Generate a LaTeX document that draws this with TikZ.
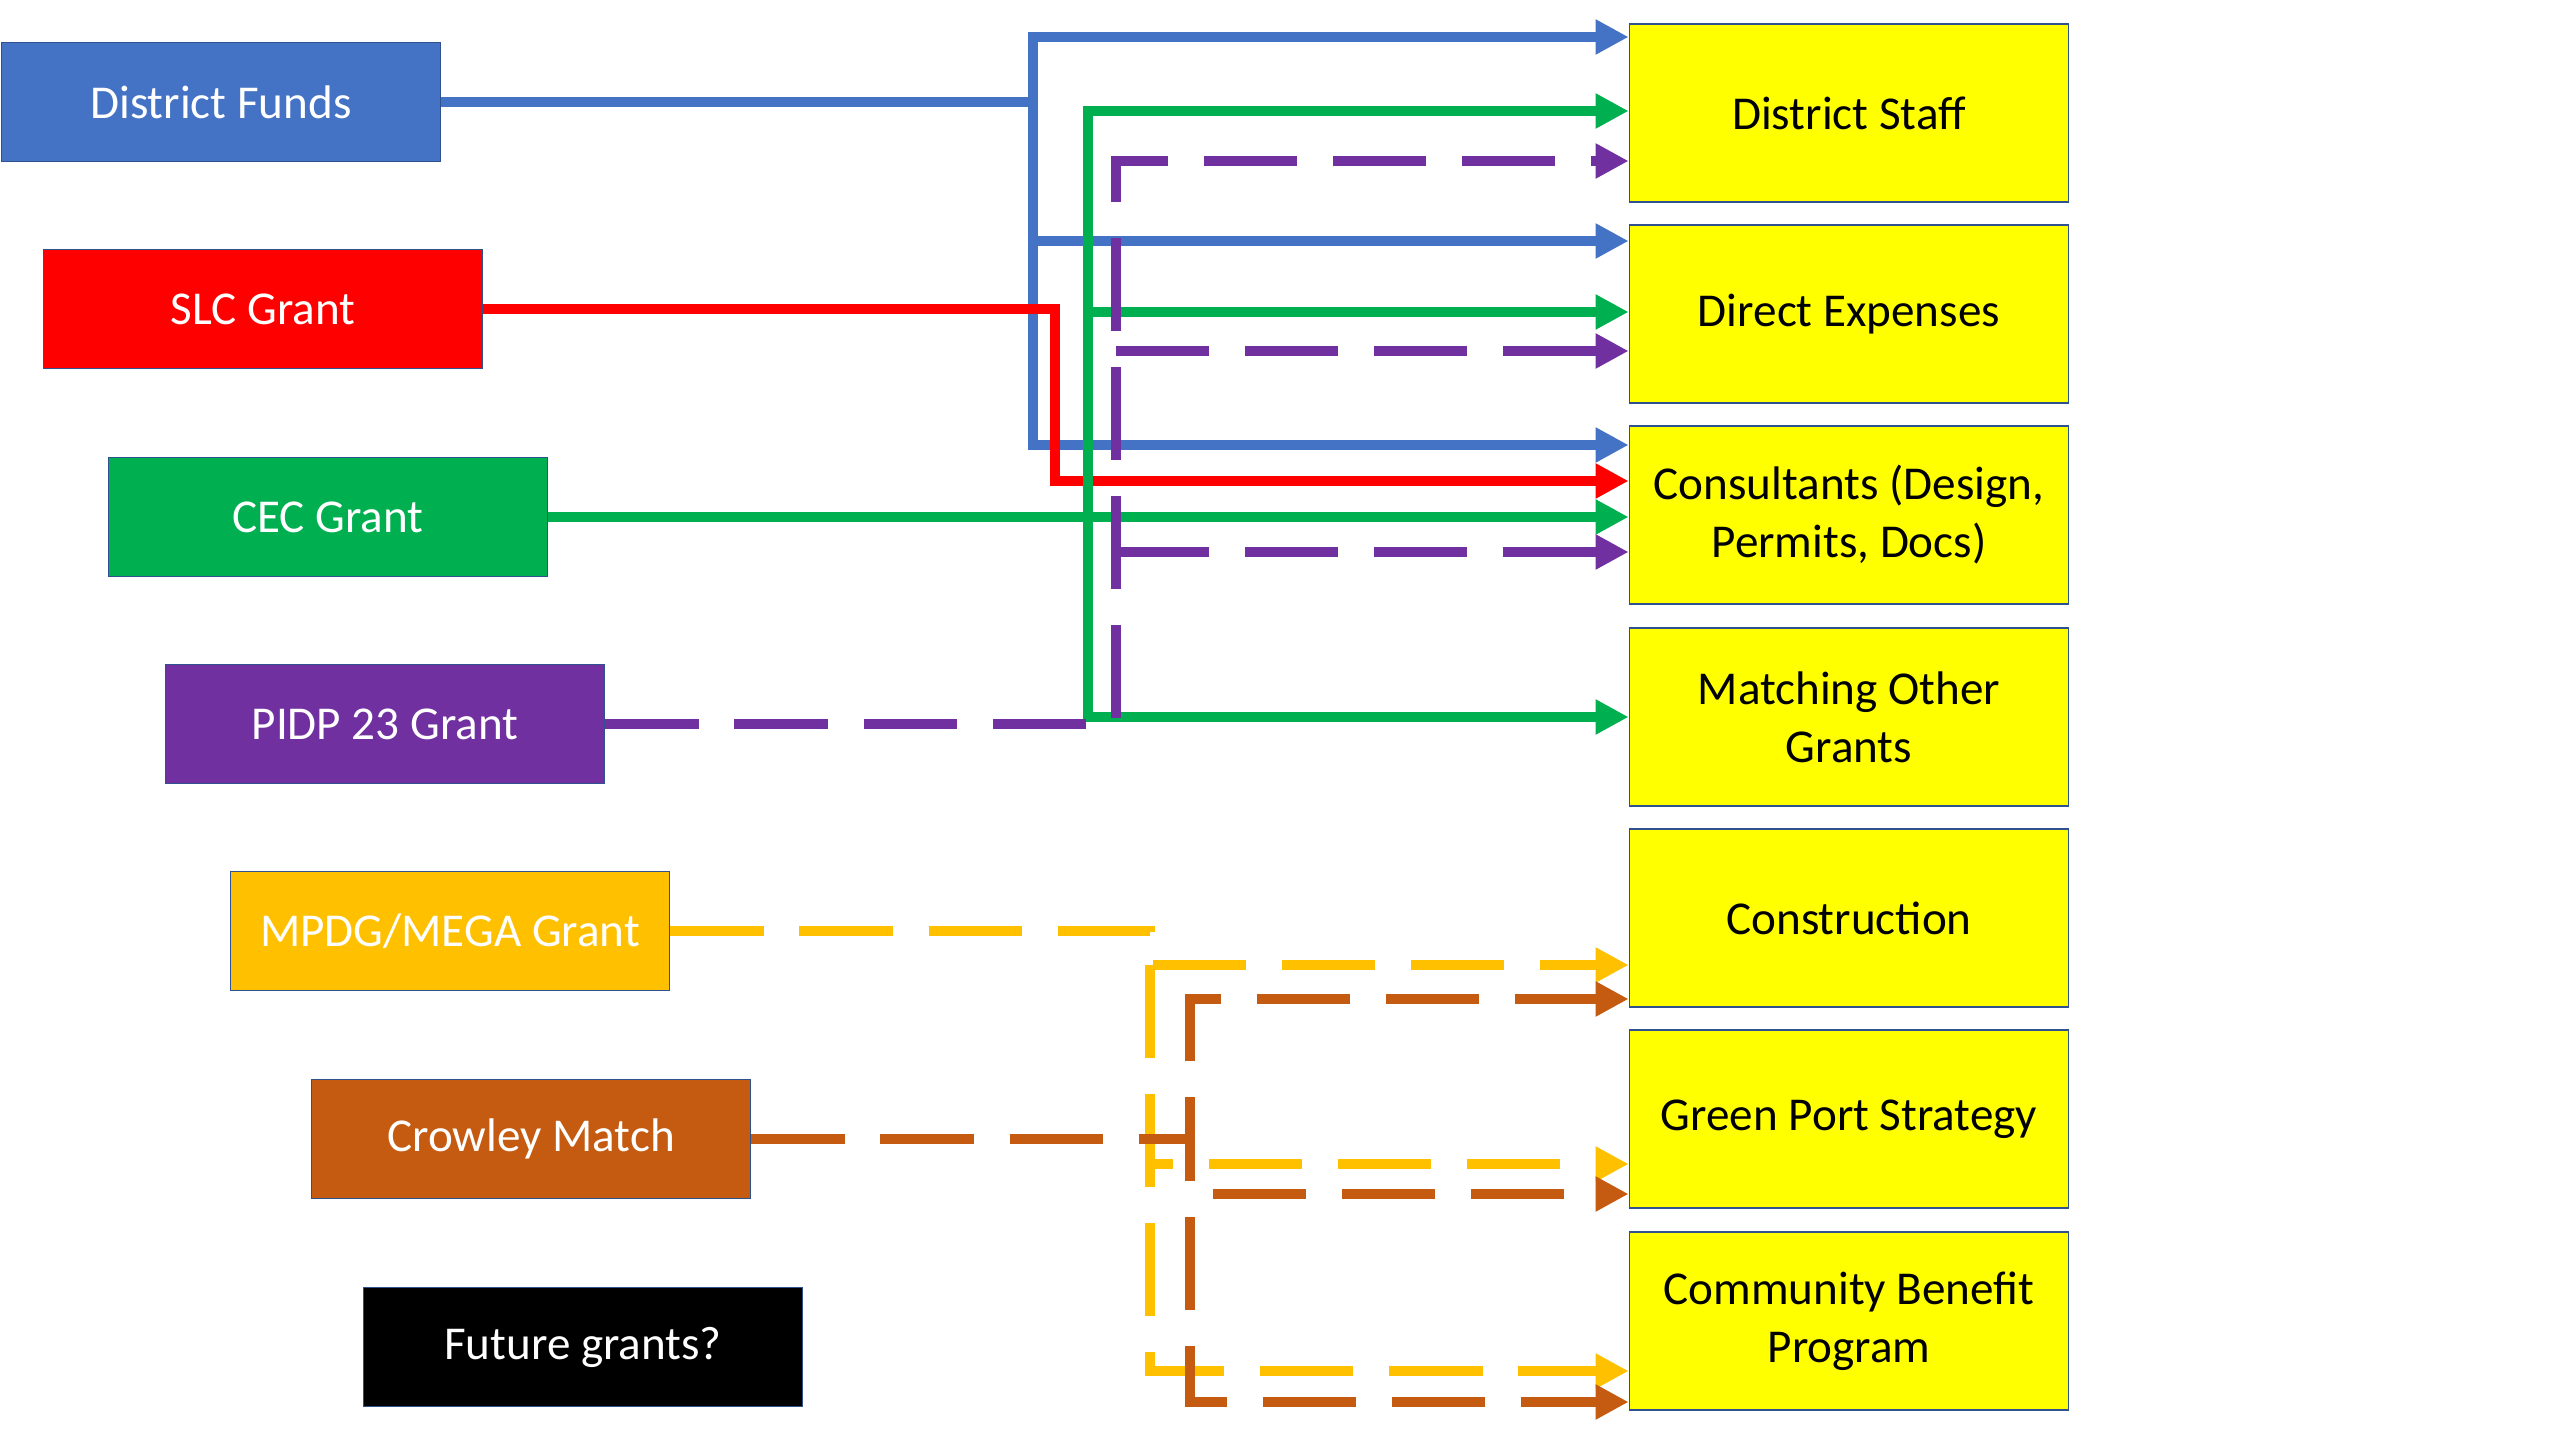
\documentclass[tikz,border=0pt]{standalone}
\usepackage{fontspec}
\setmainfont{Carlito}
\usetikzlibrary{arrows.meta}
\definecolor{fundblue}{HTML}{4472C4}
\definecolor{slcred}{HTML}{FF0000}
\definecolor{cecgreen}{HTML}{00B050}
\definecolor{pidppurple}{HTML}{7030A0}
\definecolor{megagold}{HTML}{FFC000}
\definecolor{crowbrown}{HTML}{C55A11}
\definecolor{boxline}{HTML}{2F528F}
\definecolor{boxyellow}{HTML}{FFFF00}
\tikzset{
  src/.style={draw=boxline, line width=0.45pt, minimum width=4.39cm, minimum height=1.19cm, inner sep=0pt, text=white, font=\fontsize{13.4}{16}\selectfont},
  dst/.style={draw=boxline, line width=0.45pt, fill=boxyellow, minimum width=4.39cm, minimum height=1.78cm, inner sep=0pt, align=center, font=\fontsize{13.4}{16.5}\selectfont},
  flow/.style={line width=2.85pt, -{Triangle[width=9.4pt,length=9.4pt]}},
  dashflow/.style={flow, dash pattern=on 26.5pt off 10.2pt},
}

\begin{document}
\begin{tikzpicture}[x=0.01cm,y=-0.01cm]
\useasboundingbox (0,0) rectangle (2560,1440);
\node[src,fill=fundblue] (df) at (221,102) {District Funds};
\node[src,fill=slcred] (slc) at (263,309) {SLC Grant};
\node[src,fill=cecgreen] (cec) at (328,517) {CEC Grant};
\node[src,fill=pidppurple] (pidp) at (385,724) {PIDP 23 Grant};
\node[src,fill=megagold] (mpdg) at (450,931) {MPDG/MEGA Grant};
\node[src,fill=crowbrown] (crowley) at (531,1139) {Crowley Match};
\node[src,fill=black] (future) at (583,1347) {Future grants?};
\node[dst] (staff) at (1849,113) {District Staff};
\node[dst] (direct) at (1849,314) {Direct Expenses};
\node[dst] (consult) at (1849,515) {Consultants (Design,\\Permits, Docs)};
\node[dst] (match) at (1849,717) {Matching Other\\Grants};
\node[dst] (constr) at (1849,918) {Construction};
\node[dst] (gps) at (1849,1119) {Green Port Strategy};
\node[dst] (cbp) at (1849,1321) {Community Benefit\\Program};
\coordinate (b1) at (1033,37);
\coordinate (g1) at (1088,111);
\coordinate (r1) at (1055,481);
\coordinate (p1) at (1116,161);
\coordinate (y1) at (1150,965);
\coordinate (c1) at (1190,999);
\coordinate (c2) at (1190,1194);
\coordinate (c3) at (1190,1402);
\draw[flow,fundblue] (df.east) -| (b1) -- (staff.west |- b1);
\draw[flow,fundblue] (b1) |- (direct.west |- 0,241);
\draw[flow,fundblue] (b1) |- (consult.west |- 0,445);
\draw[flow,slcred] (slc.east) -| (r1) -- (consult.west |- r1);
\draw[flow,cecgreen] (cec.east) -- (consult.west |- cec.east);
\draw[flow,cecgreen] (cec.east) -| (g1) -- (staff.west |- g1);
\draw[flow,cecgreen] (g1) |- (direct.west |- 0,312);
\draw[flow,cecgreen] (g1) |- (match.west |- 0,717);
\draw[dashflow,pidppurple] (pidp.east) -| (p1) -- (staff.west |- p1);
\draw[dashflow,pidppurple] (p1 |- 0,351) -- (direct.west |- 0,351);
\draw[dashflow,pidppurple] (p1 |- 0,552) -- (consult.west |- 0,552);
\draw[dashflow,megagold] (mpdg.east) -| (y1) -- (constr.west |- y1);
\draw[dashflow,megagold] (y1) |- (gps.west |- 0,1164);
\draw[dashflow,megagold] (y1) |- (cbp.west |- 0,1371);
\draw[dashflow,crowbrown] (crowley.east) -| (c1) -- (constr.west |- c1);
\draw[dashflow,crowbrown] (crowley.east) -| (c2) -- (gps.west |- c2);
\draw[dashflow,crowbrown] (crowley.east) -| (c3) -- (cbp.west |- c3);
\end{tikzpicture}
\end{document}
